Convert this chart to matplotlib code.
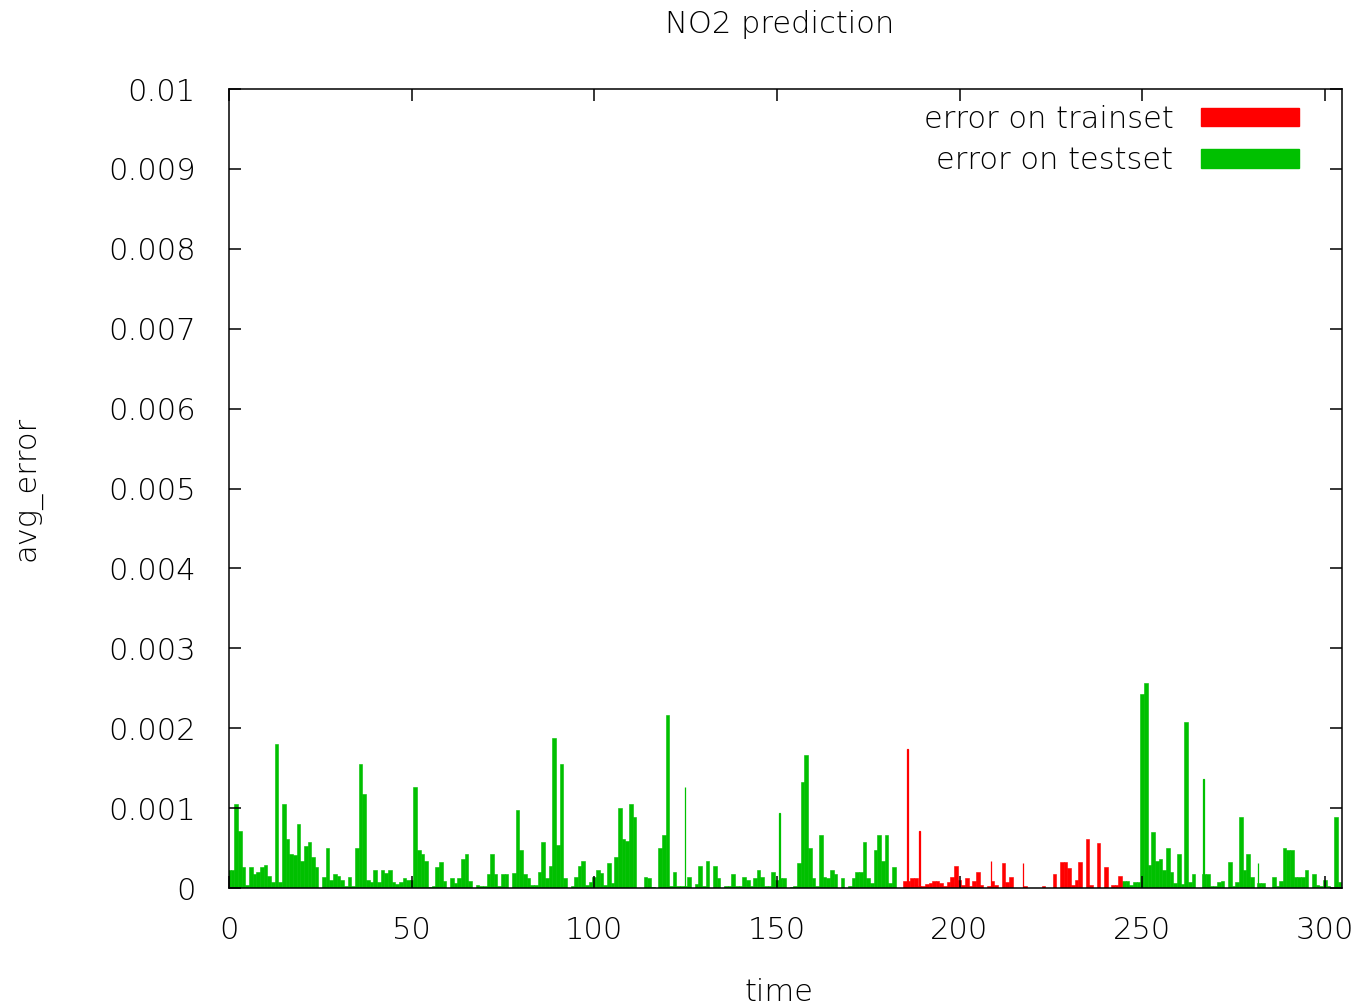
import numpy as np
import matplotlib
matplotlib.use('Agg')
import matplotlib.pyplot as plt
from matplotlib.patches import Patch
from matplotlib.ticker import FuncFormatter, MultipleLocator

plt.rcParams['font.family'] = ['DejaVu Sans']
plt.rcParams['font.weight'] = 'light'
plt.rcParams['axes.titleweight'] = 'light'
plt.rcParams['axes.labelweight'] = 'light'

# avg_error on the test set, time 0 .. 184
test_err_a = [
    0.00022, 0.00022, 0.00105, 0.00072, 0.00026, 0.00004, 0.00026, 0.00018, 0.00020, 0.00026,
    0.00029, 0.00015, 0.00008, 0.00180, 0.00008, 0.00105, 0.00062, 0.00043, 0.00041, 0.00080,
    0.00034, 0.00053, 0.00058, 0.00039, 0.00026, 0.00000, 0.00014, 0.00050, 0.00010, 0.00018,
    0.00015, 0.00010, 0.00002, 0.00014, 0.00003, 0.00050, 0.00155, 0.00118, 0.00010, 0.00007,
    0.00022, 0.00008, 0.00022, 0.00019, 0.00022, 0.00008, 0.00005, 0.00007, 0.00012, 0.00010,
    0.00010, 0.00127, 0.00047, 0.00042, 0.00034, 0.00001, 0.00003, 0.00026, 0.00032, 0.00009,
    0.00000, 0.00012, 0.00006, 0.00012, 0.00036, 0.00042, 0.00009, 0.00000, 0.00004, 0.00002,
    0.00003, 0.00018, 0.00042, 0.00018, 0.00002, 0.00017, 0.00017, 0.00000, 0.00019, 0.00098,
    0.00048, 0.00017, 0.00012, 0.00004, 0.00004, 0.00020, 0.00058, 0.00012, 0.00028, 0.00188,
    0.00054, 0.00155, 0.00012, 0.00000, 0.00003, 0.00014, 0.00028, 0.00034, 0.00004, 0.00008,
    0.00014, 0.00022, 0.00019, 0.00004, 0.00031, 0.00006, 0.00039, 0.00100, 0.00062, 0.00059,
    0.00105, 0.00089, 0.00000, 0.00000, 0.00014, 0.00012, 0.00001, 0.00000, 0.00050, 0.00067,
    0.00216, 0.00003, 0.00020, 0.00003, 0.00003, 0.00003, 0.00014, 0.00000, 0.00005, 0.00028,
    0.00002, 0.00034, 0.00000, 0.00028, 0.00012, 0.00000, 0.00003, 0.00003, 0.00017, 0.00003,
    0.00003, 0.00014, 0.00010, 0.00003, 0.00012, 0.00022, 0.00014, 0.00003, 0.00003, 0.00020,
    0.00010, 0.00012, 0.00012, 0.00000, 0.00001, 0.00003, 0.00031, 0.00133, 0.00166, 0.00050,
    0.00012, 0.00003, 0.00067, 0.00014, 0.00012, 0.00022, 0.00017, 0.00000, 0.00012, 0.00000,
    0.00003, 0.00012, 0.00020, 0.00020, 0.00058, 0.00012, 0.00006, 0.00048, 0.00067, 0.00034,
    0.00067, 0.00006, 0.00026, 0.00000, 0.00000,
]

# avg_error on the train set, time 185 .. 244
train_err = [
    0.00009, 0.00009, 0.00012, 0.00012, 0.00003, 0.00003, 0.00005, 0.00006, 0.00009, 0.00009,
    0.00006, 0.00003, 0.00008, 0.00014, 0.00028, 0.00010, 0.00004, 0.00012, 0.00003, 0.00009,
    0.00020, 0.00004, 0.00000, 0.00003, 0.00009, 0.00004, 0.00000, 0.00031, 0.00007, 0.00014,
    0.00000, 0.00000, 0.00000, 0.00003, 0.00000, 0.00000, 0.00000, 0.00000, 0.00003, 0.00000,
    0.00000, 0.00017, 0.00000, 0.00032, 0.00032, 0.00025, 0.00004, 0.00010, 0.00032, 0.00000,
    0.00062, 0.00004, 0.00000, 0.00056, 0.00000, 0.00026, 0.00000, 0.00004, 0.00004, 0.00015,
]

# avg_error on the test set, time 245 .. 304
test_err_b = [
    0.00009, 0.00009, 0.00004, 0.00007, 0.00007, 0.00243, 0.00257, 0.00029, 0.00070, 0.00034,
    0.00036, 0.00022, 0.00050, 0.00020, 0.00006, 0.00042, 0.00005, 0.00208, 0.00008, 0.00017,
    0.00000, 0.00000, 0.00017, 0.00017, 0.00003, 0.00003, 0.00007, 0.00009, 0.00000, 0.00032,
    0.00003, 0.00008, 0.00089, 0.00022, 0.00042, 0.00014, 0.00000, 0.00006, 0.00006, 0.00000,
    0.00000, 0.00014, 0.00002, 0.00009, 0.00050, 0.00048, 0.00048, 0.00014, 0.00014, 0.00014,
    0.00022, 0.00000, 0.00017, 0.00004, 0.00003, 0.00010, 0.00003, 0.00000, 0.00089, 0.00007,
]

# narrow spikes
test_spike_t = [124.8, 150.8, 266.8, 281.7]
test_spike_err = [0.00127, 0.00094, 0.00136, 0.00031]
train_spike_t = [185.8, 189.0, 208.6, 217.4]
train_spike_err = [0.00174, 0.00072, 0.00034, 0.00031]

t_a = np.arange(0, 185)
t_train = np.arange(185, 245)
t_b = np.arange(245, 305)

green = '#00c000'
red = '#ff0000'
fs = 22

fig = plt.figure(figsize=(13.59, 10.08), dpi=100)
ax = fig.add_axes([0.1685, 0.119, 0.819, 0.7927])

ax.bar(t_a, test_err_a, width=1.0, color=green, edgecolor=green, linewidth=0.4)
ax.bar(t_b, test_err_b, width=1.0, color=green, edgecolor=green, linewidth=0.4)
ax.bar(t_train, train_err, width=1.0, color=red, edgecolor=red, linewidth=0.4)
ax.bar(test_spike_t, test_spike_err, width=0.2, color=green, edgecolor=green, linewidth=0.9)
ax.bar(train_spike_t, train_spike_err, width=0.2, color=red, edgecolor=red, linewidth=0.9)

ax.set_xlim(0, 304.7)
ax.set_ylim(0, 0.01)
ax.xaxis.set_major_locator(MultipleLocator(50))
ax.yaxis.set_major_locator(MultipleLocator(0.001))
ax.yaxis.set_major_formatter(FuncFormatter(lambda v, p: f'{v:g}'))

ax.tick_params(direction='in', top=True, right=True, length=8.6, width=1.1,
               labelsize=fs, colors='black')
ax.tick_params(axis='y', pad=24)
ax.tick_params(axis='x', pad=20)
for s in ax.spines.values():
    s.set_linewidth(1.1)

ax.set_title('NO2 prediction', fontsize=fs, pad=40, x=0.4946)
ax.set_xlabel('time', fontsize=fs, labelpad=24)
ax.xaxis.label.set_x(0.4946)
ax.set_ylabel('avg_error', fontsize=fs, labelpad=48)

handles = [Patch(facecolor=red, edgecolor=red, label='error on trainset'),
           Patch(facecolor=green, edgecolor=green, label='error on testset')]
ax.legend(handles=handles, loc='upper right', bbox_to_anchor=(0.961, 0.98),
          markerfirst=False, frameon=False, fontsize=fs, handlelength=3.2,
          handleheight=0.55, handletextpad=0.9, labelspacing=0.4,
          borderpad=0, borderaxespad=0)

fig.savefig('out.png', dpi=100)
